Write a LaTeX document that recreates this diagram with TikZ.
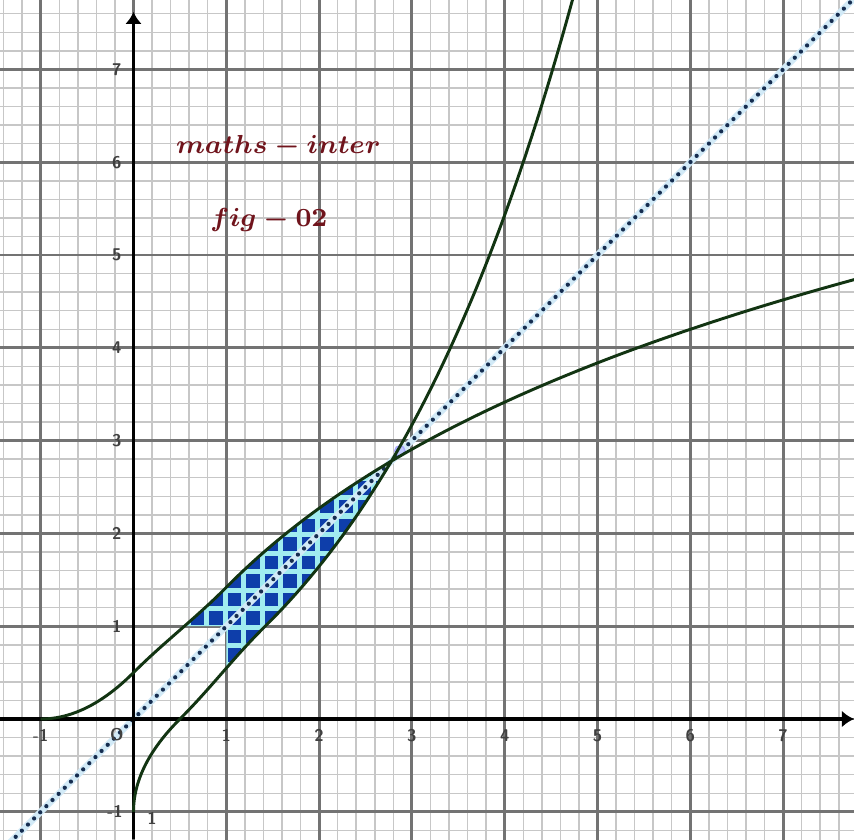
\documentclass[tikz,border=0pt]{standalone}
\usepackage{amsmath}
\usetikzlibrary{arrows.meta}
\definecolor{curvegreen}{RGB}{18,52,18}
\definecolor{patblue}{RGB}{14,62,170}
\definecolor{patcyan}{RGB}{160,236,240}
\definecolor{dotnavy}{RGB}{22,45,80}
\definecolor{halo}{RGB}{210,234,247}
\definecolor{titlered}{RGB}{112,20,28}
\newcommand{\boldtxt}[1]{{\boldmath$#1$}}
\tikzset{
  declare function={
    fa(\t)=(\t+1)^2/2;
    fb(\t)=0.5+\t-0.255*\t^2+0.174*\t^3;
    fc(\t)=2.531*ln(\t+1.5)-0.9;
  },
  minorgrid/.style={draw=black!22, line width=0.45pt},
  majorgrid/.style={draw=black!55, line width=0.9pt},
  axisline/.style={draw=black, line width=1.1pt, -{Latex[length=1.3mm,width=1.8mm]}},
  curvestyle/.style={draw=curvegreen, line width=0.9pt, line join=round},
  ticklabel/.style={font=\fontsize{5.2}{6}\selectfont\sffamily\bfseries, text=black!75, inner sep=0pt},
  titletext/.style={text=titlered, font=\fontsize{8.4}{10}\selectfont, inner sep=0pt},
  diaghalo/.style={draw=halo, line width=2pt},
  diagdots/.style={draw=dotnavy, line width=1.3pt, line cap=round, dash pattern=on 0pt off 2.66pt},
}
\begin{document}
\begin{tikzpicture}[x=1cm,y=1cm]
\def\xa{-1.4386}\def\xb{7.764}\def\ya{-1.293}\def\yb{7.748}
\useasboundingbox (\xa,\ya) rectangle (\xb,\yb);
\fill[white] (\xa,\ya) rectangle (\xb,\yb);
\begin{scope}
\clip (\xa,\ya) rectangle (\xb,\yb);
% grid
\draw[minorgrid] (-2,-2) grid[step=0.2] (8,8);
\draw[majorgrid] (-2,-2) grid[step=1] (8,8);
% shaded region
\begin{scope}
\clip plot[domain=-1:0,samples=25] (\x,{fa(\x)}) -- plot[domain=0:1,samples=25] (\x,{fb(\x)}) -- plot[domain=1:7.9,samples=80] (\x,{fc(\x)}) -- (7.9,-5) -- (-1,-5) -- cycle;
\clip plot[domain=-1:0,samples=25] ({fa(\x)},\x) -- plot[domain=0:1,samples=25] ({fb(\x)},\x) -- plot[domain=1:7.9,samples=80] ({fc(\x)},\x) -- (-5,7.9) -- (-5,-1) -- cycle;
\clip (1,-5) -- (1,1) -- (-5,1) -- (-5,10) -- (10,10) -- (10,-5) -- cycle;
\fill[patcyan] (-1,-1) rectangle (4,4);
\foreach \i in {0,...,16}{
  \foreach \j in {0,...,16}{
    \fill[patblue] ({0.2*\i+0.015},{0.2*\j+0.015}) rectangle +(0.145,0.145);
  }
}
\end{scope}
% line y = x
\coordinate (dstart) at (-1.6,-1.6);
\coordinate (dend) at (7.9,7.9);
\draw[diaghalo] (dstart) -- (dend);
\draw[diagdots] (dstart) -- (dend);
\fill[halo!70!blue!60, draw=blue!35, line width=0.4pt] (2.87,2.89) circle (0.055);
% axes
\coordinate (xl) at (\xa,0);
\coordinate (xr) at (\xb,0);
\coordinate (yb) at (0,\ya);
\coordinate (yt) at (0,7.62);
\draw[axisline] (xl) -- (xr);
\draw[axisline] (yb) -- (yt);
% curves
\draw[curvestyle] plot[domain=-1:0,samples=25] (\x,{fa(\x)}) -- plot[domain=0:1,samples=25] (\x,{fb(\x)}) -- plot[domain=1:7.9,samples=80] (\x,{fc(\x)});
\draw[curvestyle] plot[domain=-1:0,samples=25] ({fa(\x)},\x) -- plot[domain=0:1,samples=25] ({fb(\x)},\x) -- plot[domain=1:7.9,samples=80] ({fc(\x)},\x);
\end{scope}
% tick labels
\node[ticklabel] (lxm1) at (-1,-0.18) {-1};
\node[ticklabel] (lo) at (-0.18,-0.17) {O};
\foreach \k in {1,...,7}{
  \node[ticklabel] (lx\k) at (\k,-0.18) {\k};
  \node[ticklabel] (ly\k) at (-0.18,\k) {\k};
}
\node[ticklabel] (lym1) at (-0.2,-1) {-1};
\node[ticklabel] (lextra) at (0.2,-1.07) {1};
% titles
\node[titletext] (ttlA) at (1.56,6.17) {\boldtxt{maths-inter}};
\node[titletext] (ttlB) at (1.46,5.38) {\boldtxt{fig-02}};
\end{tikzpicture}
\end{document}
